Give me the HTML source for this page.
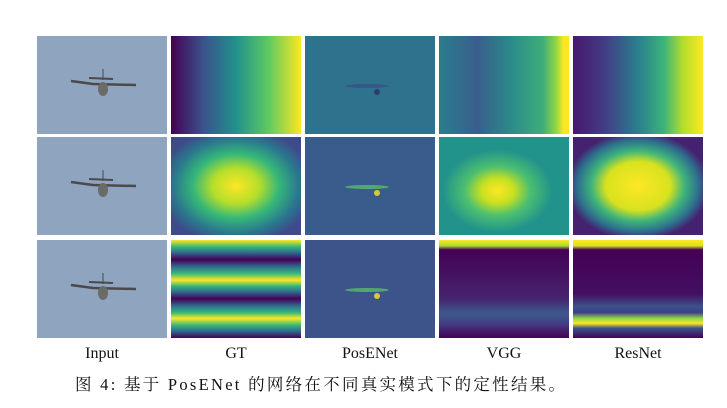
<!DOCTYPE html>
<html><head><meta charset="utf-8"><style>
body{margin:0;background:#fff;width:727px;height:408px;overflow:hidden}
svg{display:block}
text{font-family:"Liberation Serif","Noto Serif CJK SC",serif;fill:#111}
</style></head><body>
<svg width="727" height="408">
<defs>
<linearGradient id="gtH" x1="0" x2="1" y1="0" y2="0">
<stop offset="0" stop-color="#440154"/><stop offset="0.25" stop-color="#3b528b"/><stop offset="0.5" stop-color="#21918c"/><stop offset="0.75" stop-color="#5ec962"/><stop offset="1" stop-color="#fde725"/></linearGradient>
<radialGradient id="gtR" cx="0.5" cy="0.5" r="0.6">
<stop offset="0" stop-color="#fde725"/><stop offset="0.3" stop-color="#b5de2b"/><stop offset="0.55" stop-color="#35b779"/><stop offset="0.8" stop-color="#2a788e"/><stop offset="1" stop-color="#3e4a89"/></radialGradient>
<linearGradient id="gtS" x1="0" x2="0" y1="0" y2="1">
<stop offset="0" stop-color="#fde725"/><stop offset="0.07" stop-color="#35b779"/><stop offset="0.13" stop-color="#31688e"/><stop offset="0.2" stop-color="#440154"/><stop offset="0.27" stop-color="#31688e"/><stop offset="0.34" stop-color="#35b779"/><stop offset="0.41" stop-color="#fde725"/><stop offset="0.47" stop-color="#35b779"/><stop offset="0.53" stop-color="#31688e"/><stop offset="0.6" stop-color="#440154"/><stop offset="0.67" stop-color="#31688e"/><stop offset="0.74" stop-color="#35b779"/><stop offset="0.8" stop-color="#fde725"/><stop offset="0.87" stop-color="#35b779"/><stop offset="0.93" stop-color="#31688e"/><stop offset="1" stop-color="#440154"/></linearGradient>
<linearGradient id="vgg1" x1="0" x2="1">
<stop offset="0" stop-color="#2a7d8d"/><stop offset="0.3" stop-color="#3a5e8c"/><stop offset="0.55" stop-color="#2a8a8a"/><stop offset="0.8" stop-color="#3fae7a"/><stop offset="0.9" stop-color="#8fd744"/><stop offset="0.96" stop-color="#fde725"/><stop offset="1" stop-color="#fde725"/></linearGradient>
<radialGradient id="vgg2" cx="0.45" cy="0.55" r="0.42">
<stop offset="0" stop-color="#fde725"/><stop offset="0.3" stop-color="#c8e020"/><stop offset="0.6" stop-color="#4cbf70"/><stop offset="1" stop-color="#22938b"/></radialGradient>
<linearGradient id="res1" x1="0" x2="1">
<stop offset="0" stop-color="#46186e"/><stop offset="0.25" stop-color="#433e85"/><stop offset="0.5" stop-color="#2a7f8e"/><stop offset="0.7" stop-color="#3bb47a"/><stop offset="0.85" stop-color="#b5de2b"/><stop offset="1" stop-color="#fde725"/></linearGradient>
<radialGradient id="res2" cx="0.5" cy="0.5" r="0.55">
<stop offset="0" stop-color="#fde725"/><stop offset="0.45" stop-color="#d8e21f"/><stop offset="0.65" stop-color="#3fb57a"/><stop offset="0.85" stop-color="#2d6f8e"/><stop offset="1" stop-color="#45226f"/></radialGradient>
<linearGradient id="res3" x1="0" x2="0" y1="0" y2="1">
<stop offset="0" stop-color="#fde725"/><stop offset="0.06" stop-color="#d8e21f"/><stop offset="0.1" stop-color="#440154"/><stop offset="0.55" stop-color="#440f62"/><stop offset="0.68" stop-color="#3b528b"/><stop offset="0.74" stop-color="#3e3d86"/><stop offset="0.8" stop-color="#8fd744"/><stop offset="0.85" stop-color="#fde725"/><stop offset="0.9" stop-color="#3b528b"/><stop offset="1" stop-color="#440154"/></linearGradient>
<linearGradient id="vgg3" x1="0" x2="0" y1="0" y2="1">
<stop offset="0" stop-color="#fde725"/><stop offset="0.06" stop-color="#a8db34"/><stop offset="0.1" stop-color="#440154"/><stop offset="0.6" stop-color="#46246f"/><stop offset="0.75" stop-color="#3d5a8c"/><stop offset="0.85" stop-color="#433e85"/><stop offset="1" stop-color="#440154"/></linearGradient>
</defs>
<g id="grid"></g>
<g font-size="16">
<text x="102" y="358" text-anchor="middle">Input</text>
<text x="236" y="358" text-anchor="middle">GT</text>
<text x="370" y="358" text-anchor="middle">PosENet</text>
<text x="504" y="358" text-anchor="middle">VGG</text>
<text x="638" y="358" text-anchor="middle">ResNet</text>
</g>
<text x="75" y="390" font-size="16.5" textLength="490" lengthAdjust="spacing">图 4: 基于 PosENet 的网络在不同真实模式下的定性结果。</text>
</svg>
<script>
const colX=[37,171,305,439,573];
const rowY=[36,137,240];
const W=130,H=98;
const fills=[
 ["#8fa4bf","url(#gtH)","#2f728d","url(#vgg1)","url(#res1)"],
 ["#8fa4bf","url(#gtR)","#3a5c8c","url(#vgg2)","url(#res2)"],
 ["#8fa4bf","url(#gtS)","#3d548b","url(#vgg3)","url(#res3)"]];
const colNames=["input","gt","posenet","vgg","resnet"];
const g=document.getElementById('grid');
const NS="http://www.w3.org/2000/svg";
function mk(t,a){const e=document.createElementNS(NS,t);for(const k in a)e.setAttribute(k,a[k]);return e;}
for(let r=0;r<3;r++)for(let c=0;c<5;c++){
 const x=colX[c],y=rowY[r];
 const rect=mk('rect',{x:x,y:y,width:W,height:H,fill:fills[r][c]});
 
 
 g.appendChild(rect);
 if(c===0){
  const p=mk('g',{fill:'none',stroke:'#4a4a4a'});
  
  
  p.appendChild(mk('path',{d:`M${x+34} ${y+45} L${x+56} ${y+48} L${x+99} ${y+49}`,'stroke-width':2.5}));
  p.appendChild(mk('path',{d:`M${x+52} ${y+42} L${x+76} ${y+43}`,'stroke-width':2}));
  p.appendChild(mk('ellipse',{cx:x+66,cy:y+53,rx:5,ry:7,fill:'#6a6a66',stroke:'none'}));
  p.appendChild(mk('path',{d:`M${x+66} ${y+33} L${x+66} ${y+44}`,'stroke-width':1}));
  g.appendChild(p);
 }
 if(c===2){
  const m=mk('g',{});
  
  
  m.appendChild(mk('ellipse',{cx:x+62,cy:y+50,rx:22,ry:2,fill:r==0?'#3b4c86':'#5ec962',opacity:0.7}));
  m.appendChild(mk('ellipse',{cx:x+72,cy:y+56,rx:3,ry:3,fill:r==0?'#2b2f6a':'#fde725',opacity:0.8}));
  g.appendChild(m);
 }
}
</script>
</body></html>
